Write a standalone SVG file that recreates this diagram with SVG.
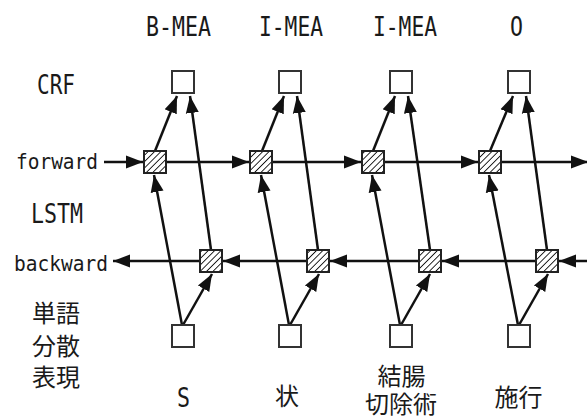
<svg xmlns="http://www.w3.org/2000/svg" width="587" height="419" viewBox="0 0 587 419">
<style>
.lat{font-family:"DejaVu Sans Mono","Liberation Mono",monospace;fill:#1a1a1a;}
.big{font-size:26px;}
.mid{font-size:22px;}
.cjk{font-family:"Noto Sans CJK JP",sans-serif;fill:#1a1a1a;font-size:24px;}
.box{fill:#fff;stroke:#333;stroke-width:2;}
.hbox{fill:url(#hatch);stroke:#222;stroke-width:2;}
.ar{stroke:#111;stroke-width:2.5;fill:none;marker-end:url(#ah);}
</style>
<defs>
<pattern id="hatch" patternUnits="userSpaceOnUse" width="4.5" height="4.5" patternTransform="rotate(45)">
<rect width="4.5" height="4.5" fill="#fff"/>
<line x1="0" y1="0" x2="0" y2="4.5" stroke="#111" stroke-width="1.8"/>
</pattern>
<marker id="ah" markerUnits="userSpaceOnUse" markerWidth="18" markerHeight="16" viewBox="0 0 18 16" refX="17" refY="8" orient="auto">
<path d="M0,1.5 L17,8 L0,14.5 Z" fill="#111"/>
</marker>
</defs>
<g id="labels">
<text class="lat big" x="178.5" y="36" text-anchor="middle" textLength="65" lengthAdjust="spacingAndGlyphs">B-MEA</text>
<text class="lat big" x="291" y="36" text-anchor="middle" textLength="64" lengthAdjust="spacingAndGlyphs">I-MEA</text>
<text class="lat big" x="405" y="36" text-anchor="middle" textLength="64" lengthAdjust="spacingAndGlyphs">I-MEA</text>
<text class="lat big" x="516.5" y="36" text-anchor="middle" textLength="13" lengthAdjust="spacingAndGlyphs">O</text>
<text class="lat big" x="37" y="94" textLength="38" lengthAdjust="spacingAndGlyphs">CRF</text>
<text class="lat mid" x="16" y="169" textLength="82" lengthAdjust="spacingAndGlyphs">forward</text>
<text class="lat big" x="31" y="223" textLength="52" lengthAdjust="spacingAndGlyphs">LSTM</text>
<text class="lat mid" x="14" y="271" textLength="94" lengthAdjust="spacingAndGlyphs">backward</text>
<text class="cjk"><tspan x="32" y="322">単語</tspan><tspan x="32" y="355">分散</tspan><tspan x="32" y="386">表現</tspan></text>
<text class="lat big" x="183.5" y="407" text-anchor="middle" textLength="13" lengthAdjust="spacingAndGlyphs">S</text>
<text class="cjk" x="287" y="405" text-anchor="middle">状</text>
<text class="cjk" text-anchor="middle"><tspan x="401.5" y="385">結腸</tspan><tspan x="401" y="413">切除術</tspan></text>
<text class="cjk" x="518.5" y="406" text-anchor="middle">施行</text>
</g>
<g id="connectors">
<line class="ar" x1="104" y1="162" x2="143" y2="162"/>
<line class="ar" x1="167" y1="162" x2="249" y2="162"/>
<line class="ar" x1="273" y1="162" x2="361" y2="162"/>
<line class="ar" x1="385" y1="162" x2="478" y2="162"/>
<line class="ar" x1="502" y1="162" x2="588" y2="162"/>
<line class="ar" x1="588" y1="261" x2="559" y2="261"/>
<line class="ar" x1="535" y1="261" x2="442" y2="261"/>
<line class="ar" x1="418" y1="261" x2="330" y2="261"/>
<line class="ar" x1="306" y1="261" x2="223" y2="261"/>
<line class="ar" x1="199" y1="261" x2="113" y2="261"/>
<line class="ar" x1="155" y1="151" x2="177" y2="96"/>
<line class="ar" x1="211" y1="250" x2="190" y2="96"/>
<line class="ar" x1="182" y1="325" x2="154" y2="175"/>
<line class="ar" x1="183" y1="325" x2="212" y2="274"/>
<line class="ar" x1="262" y1="151" x2="284" y2="96"/>
<line class="ar" x1="318" y1="250" x2="297" y2="96"/>
<line class="ar" x1="289" y1="325" x2="261" y2="175"/>
<line class="ar" x1="290" y1="325" x2="319" y2="274"/>
<line class="ar" x1="373" y1="151" x2="395" y2="96"/>
<line class="ar" x1="430" y1="250" x2="408" y2="96"/>
<line class="ar" x1="400" y1="325" x2="372" y2="175"/>
<line class="ar" x1="401" y1="325" x2="430" y2="274"/>
<line class="ar" x1="490" y1="151" x2="513" y2="96"/>
<line class="ar" x1="547" y1="250" x2="526" y2="96"/>
<line class="ar" x1="518" y1="325" x2="489" y2="175"/>
<line class="ar" x1="519" y1="325" x2="548" y2="274"/>
</g>
<g id="crf1"><rect class="box" x="172" y="71" width="22" height="22"/></g>
<g id="crf2"><rect class="box" x="279" y="71" width="22" height="22"/></g>
<g id="crf3"><rect class="box" x="390" y="71" width="22" height="22"/></g>
<g id="crf4"><rect class="box" x="508" y="71" width="22" height="22"/></g>
<g id="fwd1"><rect class="hbox" x="144" y="151" width="22" height="22"/></g>
<g id="fwd2"><rect class="hbox" x="250" y="151" width="22" height="22"/></g>
<g id="fwd3"><rect class="hbox" x="362" y="151" width="22" height="22"/></g>
<g id="fwd4"><rect class="hbox" x="479" y="151" width="22" height="22"/></g>
<g id="bwd1"><rect class="hbox" x="200" y="250" width="22" height="22"/></g>
<g id="bwd2"><rect class="hbox" x="307" y="250" width="22" height="22"/></g>
<g id="bwd3"><rect class="hbox" x="419" y="250" width="22" height="22"/></g>
<g id="bwd4"><rect class="hbox" x="536" y="250" width="22" height="22"/></g>
<g id="emb1"><rect class="box" x="172" y="325" width="22" height="22"/></g>
<g id="emb2"><rect class="box" x="279" y="325" width="22" height="22"/></g>
<g id="emb3"><rect class="box" x="390" y="325" width="22" height="22"/></g>
<g id="emb4"><rect class="box" x="508" y="325" width="22" height="22"/></g>
</svg>
